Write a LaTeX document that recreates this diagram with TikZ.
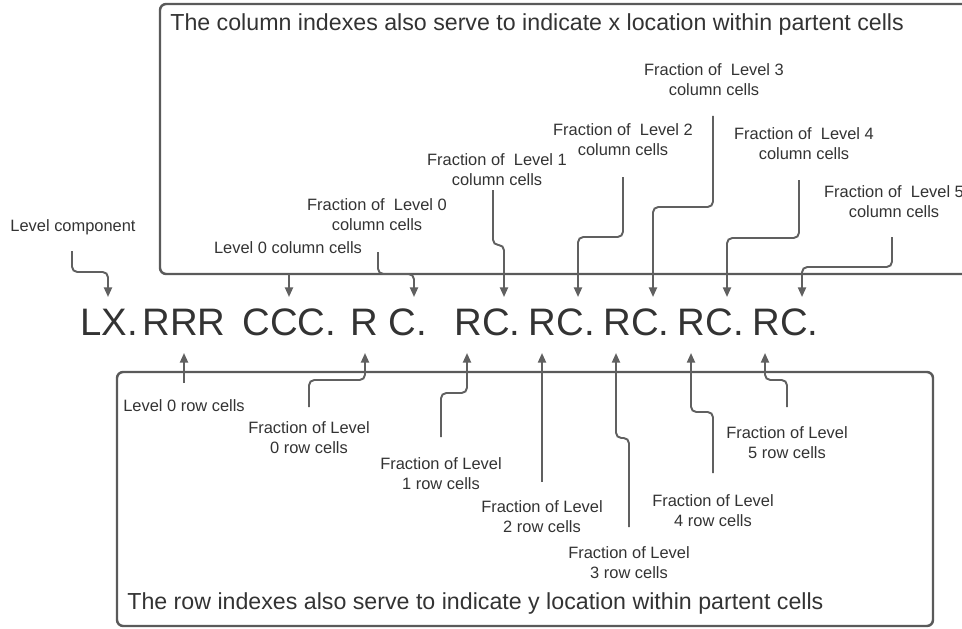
\documentclass[tikz,border=0pt]{standalone}
\usepackage{fontspec}
\setmainfont{Liberation Sans}
\usetikzlibrary{arrows.meta}
\definecolor{linegray}{HTML}{606060}
\definecolor{boxgray}{HTML}{5A5A5A}
\definecolor{txtgray}{HTML}{333333}
\tikzset{
  lbl/.style={inner sep=0pt, align=center, text=txtgray, font=\fontsize{9.35}{11.3}\selectfont},
  ttl/.style={inner sep=0pt, anchor=west, text=txtgray, font=\fontsize{13.2}{15}\selectfont},
  code/.style={inner sep=0pt, anchor=base west, text=txtgray, font=\fontsize{21.8}{25}\selectfont},
  frame/.style={draw=boxgray, line width=1.4pt, rounded corners=3.5pt},
  conn/.style={draw=linegray, line width=1.1pt, rounded corners=3pt, -{Triangle[length=5.5pt,width=4.6pt]}},
}
\begin{document}
\begin{tikzpicture}[x=0.02cm, y=-0.02cm]
\useasboundingbox (0,0) rectangle (962,628);
% frames
\draw[frame] (160,4) rectangle (990,274);
\draw[frame] (117,372) rectangle (933,626);
\node[ttl] (ttop) at (170,25) {The column indexes also serve to indicate x location within partent cells};
\node[ttl] (tbot) at (127,603) {The row indexes also serve to indicate y location within partent cells};
% code string
\node[code] (g1) at (80,335) {LX.};
\node[code] (g2) at (142,335) {RRR};
\node[code] (g3) at (242,335) {CCC.};
\node[code] (g4) at (350,335) {R};
\node[code] (g5) at (388,335) {C.};
\node[code] (g6) at (454,335) {RC.};
\node[code] (g7) at (528.5,335) {RC.};
\node[code] (g8) at (603,335) {RC.};
\node[code] (g9) at (677.5,335) {RC.};
\node[code] (g10) at (752,335) {RC.};
% upper labels
\node[lbl] (lc) at (73,227) {Level component};
\node[lbl] (l0c) at (288,248) {Level 0 column cells};
\node[lbl] (f0c) at (377,215) {Fraction of\ \ Level 0\\column cells};
\node[lbl] (f1c) at (497,170) {Fraction of\ \ Level 1\\column cells};
\node[lbl] (f2c) at (623,140) {Fraction of\ \ Level 2\\column cells};
\node[lbl] (f3c) at (714,80) {Fraction of\ \ Level 3\\column cells};
\node[lbl] (f4c) at (804,144) {Fraction of\ \ Level 4\\column cells};
\node[lbl] (f5c) at (894,202) {Fraction of\ \ Level 5\\column cells};
% lower labels
\node[lbl] (l0r) at (184,406) {Level 0 row cells};
\node[lbl] (f0r) at (309,438) {Fraction of Level\\0 row cells};
\node[lbl] (f1r) at (441,474) {Fraction of Level\\1 row cells};
\node[lbl] (f2r) at (542,517) {Fraction of Level\\2 row cells};
\node[lbl] (f3r) at (629,563) {Fraction of Level\\3 row cells};
\node[lbl] (f4r) at (713,511) {Fraction of Level\\4 row cells};
\node[lbl] (f5r) at (787,443) {Fraction of Level\\5 row cells};
% connector end points
\coordinate (slc) at (72,251);   \coordinate (tlc) at (108,297);
\coordinate (sl0c) at (289,274); \coordinate (tl0c) at (289,297);
\coordinate (sf0c) at (378,252); \coordinate (tf0c) at (414,297);
\coordinate (sf1c) at (493,190); \coordinate (tf1c) at (504,297);
\coordinate (sf2c) at (623,177); \coordinate (tf2c) at (578,297);
\coordinate (sf3c) at (713,116); \coordinate (tf3c) at (653,297);
\coordinate (sf4c) at (799,180); \coordinate (tf4c) at (727,297);
\coordinate (sf5c) at (892,237); \coordinate (tf5c) at (802,297);
\coordinate (sl0r) at (184,383); \coordinate (tl0r) at (184,353);
\coordinate (sf0r) at (309,407); \coordinate (tf0r) at (365,353);
\coordinate (sf1r) at (441,437); \coordinate (tf1r) at (467,353);
\coordinate (sf2r) at (542,482); \coordinate (tf2r) at (542,353);
\coordinate (sf3r) at (629,527); \coordinate (tf3r) at (616,353);
\coordinate (sf4r) at (713,473); \coordinate (tf4r) at (691,353);
\coordinate (sf5r) at (787,407); \coordinate (tf5r) at (765,353);
% upper connectors
\draw[conn] (slc) -- (slc |- 0,272) -- (tlc |- 0,272) -- (tlc);
\draw[conn] (sl0c) -- (tl0c);
\draw[conn] (sf0c) -- (sf0c |- 0,274) -- (tf0c |- 0,274) -- (tf0c);
\draw[conn] (sf1c) -- (sf1c |- 0,245) -- (tf1c |- 0,245) -- (tf1c);
\draw[conn] (sf2c) -- (sf2c |- 0,237) -- (tf2c |- 0,237) -- (tf2c);
\draw[conn] (sf3c) -- (sf3c |- 0,207) -- (tf3c |- 0,207) -- (tf3c);
\draw[conn] (sf4c) -- (sf4c |- 0,238) -- (tf4c |- 0,238) -- (tf4c);
\draw[conn] (sf5c) -- (sf5c |- 0,267) -- (tf5c |- 0,267) -- (tf5c);
% lower connectors
\draw[conn] (sl0r) -- (tl0r);
\draw[conn] (sf0r) -- (sf0r |- 0,380) -- (tf0r |- 0,380) -- (tf0r);
\draw[conn] (sf1r) -- (sf1r |- 0,393) -- (tf1r |- 0,393) -- (tf1r);
\draw[conn] (sf2r) -- (tf2r);
\draw[conn] (sf3r) -- (sf3r |- 0,438) -- (tf3r |- 0,438) -- (tf3r);
\draw[conn] (sf4r) -- (sf4r |- 0,412) -- (tf4r |- 0,412) -- (tf4r);
\draw[conn] (sf5r) -- (sf5r |- 0,380) -- (tf5r |- 0,380) -- (tf5r);
\end{tikzpicture}
\end{document}
